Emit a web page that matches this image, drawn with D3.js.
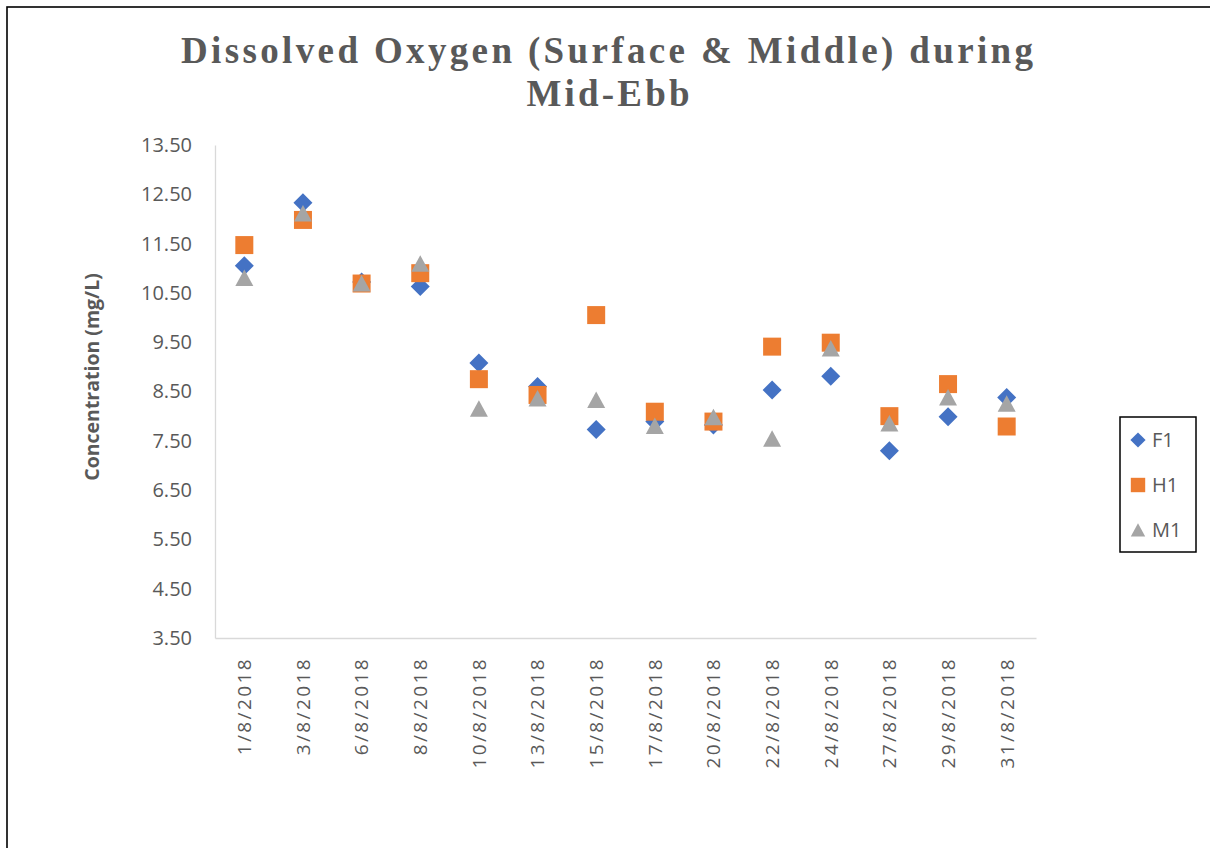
<!DOCTYPE html>
<html>
<head>
<meta charset="utf-8">
<script src="https://cdn.jsdelivr.net/npm/d3@7"></script>
<style>
  body { margin: 0; background: #fff; }
  svg { display: block; }
</style>
</head>
<body>
<div id="container"></div>
<script>
const dates = ["1/8/2018", "3/8/2018", "6/8/2018", "8/8/2018", "10/8/2018", "13/8/2018", "15/8/2018",
  "17/8/2018", "20/8/2018", "22/8/2018", "24/8/2018", "27/8/2018", "29/8/2018", "31/8/2018"];
const f1 = [11.05, 12.33, 10.72, 10.63, 9.08, 8.60, 7.73, 7.89, 7.82, 8.53, 8.81, 7.30, 7.99, 8.38];
const h1 = [11.47, 11.98, 10.69, 10.90, 8.75, 8.43, 10.05, 8.09, 7.89, 9.41, 9.49, 8.00, 8.65, 7.79];
const m1 = [10.80, 12.11, 10.69, 11.09, 8.15, 8.36, 8.33, 7.80, 7.98, 7.54, 9.37, 7.85, 8.38, 8.25];
const yTicks = [3.5, 4.5, 5.5, 6.5, 7.5, 8.5, 9.5, 10.5, 11.5, 12.5, 13.5];

const series = [
  { name: "F1", values: f1, color: "#4472C4", shape: "diamond" },
  { name: "H1", values: h1, color: "#ED7D31", shape: "square" },
  { name: "M1", values: m1, color: "#A5A5A5", shape: "triangle" }
];

const W = 1210, H = 848;
const svg = d3.select("#container").append("svg")
  .attr("width", W).attr("height", H);

// outer frame (only left and top edges fall inside the view)
svg.append("rect")
  .attr("x", 7).attr("y", 7)
  .attr("width", W + 20).attr("height", H + 20)
  .attr("fill", "none").attr("stroke", "#000").attr("stroke-width", 1.6);

// title
const title = svg.append("g")
  .attr("font-family", "'Liberation Serif', 'DejaVu Serif', serif")
  .attr("font-weight", "bold")
  .attr("font-size", 37)
  .attr("fill", "#595959")
  .attr("text-anchor", "middle");
title.append("text").attr("x", 607).attr("y", 63)
  .attr("textLength", 852).attr("lengthAdjust", "spacing")
  .text("Dissolved Oxygen (Surface & Middle) during");
title.append("text").attr("x", 608).attr("y", 106)
  .attr("textLength", 163).attr("lengthAdjust", "spacing")
  .text("Mid-Ebb");

const plotLeft = 215, plotRight = 1036, plotTop = 145, plotBottom = 638;

const x = d3.scaleBand().domain(dates).range([plotLeft, plotRight]);
const y = d3.scaleLinear().domain([3.5, 13.5]).range([plotBottom, plotTop]);

// y axis
const yAxis = svg.append("g")
  .attr("transform", `translate(${plotLeft},0)`)
  .call(d3.axisLeft(y).tickValues(yTicks).tickSize(0).tickPadding(23).tickFormat(d3.format(".2f")));
yAxis.select(".domain").attr("stroke", "#d9d9d9").attr("stroke-width", 1.3);
yAxis.selectAll("text")
  .attr("font-family", "'Open Sans', sans-serif")
  .attr("font-size", 20)
  .attr("fill", "#595959");

// x axis
const xAxis = svg.append("g")
  .attr("transform", `translate(0,${plotBottom})`)
  .call(d3.axisBottom(x).tickSize(0).tickSizeOuter(0));
xAxis.select(".domain").attr("stroke", "#d9d9d9").attr("stroke-width", 1.3);
xAxis.selectAll("text")
  .attr("font-family", "'Open Sans', sans-serif")
  .attr("font-size", 19)
  .attr("letter-spacing", "2.4px")
  .attr("fill", "#595959")
  .attr("text-anchor", "end")
  .attr("transform", "rotate(-90)")
  .attr("x", -19)
  .attr("y", 0)
  .attr("dy", "0.36em");

// y axis title
svg.append("text")
  .attr("transform", "translate(99,377) rotate(-90)")
  .attr("text-anchor", "middle")
  .attr("font-family", "'Open Sans', sans-serif")
  .attr("font-weight", "bold")
  .attr("font-size", 19.5)
  .attr("fill", "#595959")
  .text("Concentration (mg/L)");

const markerPath = shape => {
  if (shape === "diamond") return "M0,-9.5L9.5,0L0,9.5L-9.5,0Z";
  if (shape === "square") return "M-9,-9H9V9H-9Z";
  return "M0,-8.5L9,8L-9,8Z";
};

series.forEach(s => {
  svg.append("g").selectAll("path")
    .data(s.values)
    .join("path")
    .attr("d", markerPath(s.shape))
    .attr("fill", s.color)
    .attr("transform", (d, i) => `translate(${x(dates[i]) + x.bandwidth() / 2},${y(d)})`);
});

// legend
const legend = svg.append("g");
legend.append("rect")
  .attr("x", 1120).attr("y", 417).attr("width", 76).attr("height", 135)
  .attr("fill", "#fff").attr("stroke", "#000").attr("stroke-width", 1.5);
series.forEach((s, i) => {
  const ly = 440 + i * 45;
  legend.append("path")
    .attr("d", markerPath(s.shape))
    .attr("fill", s.color)
    .attr("transform", `translate(1138,${ly}) scale(0.8)`);
  legend.append("text")
    .attr("x", 1152).attr("y", ly)
    .attr("dy", "0.36em")
    .attr("font-family", "'Open Sans', sans-serif")
    .attr("font-size", 20)
    .attr("fill", "#595959")
    .text(s.name);
});
</script>
</body>
</html>
